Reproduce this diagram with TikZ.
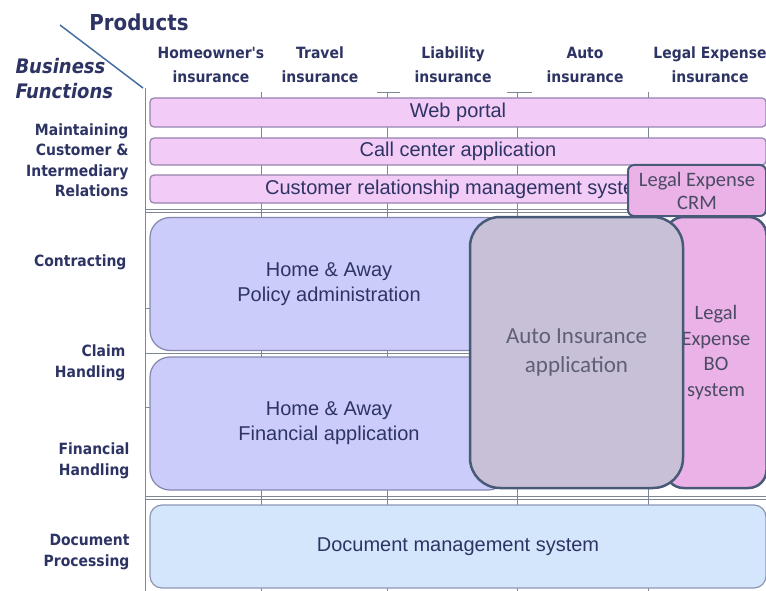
\documentclass[tikz,border=0pt]{standalone}
\usepackage{fontspec}
\setmainfont{Liberation Sans}
\newfontfamily\hdrfont[FakeStretch=0.9]{DejaVu Sans}
\newfontfamily\calfont{Carlito}
\definecolor{navy}{RGB}{45,52,100}
\definecolor{gridgray}{RGB}{125,135,150}
\definecolor{diagblue}{RGB}{70,110,160}
\definecolor{pinkfill}{RGB}{242,204,246}
\definecolor{pinkline}{RGB}{150,130,175}
\definecolor{lavfill}{RGB}{204,204,250}
\definecolor{lavline}{RGB}{130,135,175}
\definecolor{autofill}{RGB}{200,192,215}
\definecolor{darkline}{RGB}{72,90,120}
\definecolor{legfill}{RGB}{234,178,230}
\definecolor{docfill}{RGB}{212,230,252}
\definecolor{docline}{RGB}{140,150,180}
\definecolor{autotext}{RGB}{95,95,120}
\definecolor{legtext}{RGB}{75,75,100}
\begin{document}
\begin{tikzpicture}[x=1pt, y=-1pt,
    hdr/.style={align=center, text=navy, font=\hdrfont\bfseries\fontsize{15.5}{24}\selectfont},
    rowlbl/.style={align=right, anchor=east, text=navy, font=\hdrfont\bfseries\fontsize{15.5}{20.5}\selectfont},
    box/.style={inner sep=0pt, align=center, text=navy, font=\fontsize{20}{25}\selectfont},
    bar/.style={box, draw=pinkline, fill=pinkfill, line width=1.2pt, rounded corners=4pt, minimum width=616pt},
    lav/.style={box, draw=lavline, fill=lavfill, line width=1.2pt, rounded corners=20pt, minimum width=358pt, minimum height=133pt},
    app/.style={inner sep=0pt, align=center, draw=darkline, line width=2.5pt}]
\useasboundingbox (0,0) rectangle (766,591);
% grid
\draw[gridgray, line width=1pt] (145,88) -- (145,591);
\foreach \c in {261,387,517,648}
    \draw[gridgray, line width=1pt] (\c,92) -- (\c,591);
\draw[gridgray] (377,92) -- (400,92) (507,92) -- (532,92);
\foreach \r in {209,212,353,496,499}
    \draw[gridgray] (145,\r) -- (766,\r);
\draw[gridgray] (145,308) -- (152,308) (145,407) -- (152,407);
\draw[diagblue, line width=1.5pt] (60,25) -- (143,88);
% headings
\node[text=navy, font=\hdrfont\bfseries\fontsize{22}{26}\selectfont] (prod) at (139,22) {Products};
\node[anchor=west, align=left, text=navy, font=\hdrfont\bfseries\itshape\fontsize{20}{25}\selectfont] (bf) at (12,79) {Business\\Functions};
\node[hdr] (home) at (211,65) {Homeowner's\\insurance};
\node[hdr] (trav) at (320,65) {Travel\\insurance};
\node[hdr] (liab) at (453,65) {Liability\\insurance};
\node[hdr] (auto) at (585,65) {Auto\\insurance};
\node[hdr] (legal) at (710,65) {Legal Expense\\insurance};
\node[rowlbl] (maint) at (132,160) {Maintaining\\Customer \&\\Intermediary\\Relations};
\node[rowlbl] (contr) at (130,262) {Contracting};
\node[rowlbl] (claim) at (129,363) {Claim\\Handling};
\node[rowlbl] (fin) at (133,461) {Financial\\Handling};
\node[rowlbl] (docp) at (133,552) {Document\\Processing};
% applications
\node[bar, minimum height=29pt] (web) at (458,112.5) {Web portal};
\node[bar, minimum height=27pt] (call) at (458,151.5) {Call center application};
\node[bar, minimum height=28pt] (crm) at (458,189) {Customer relationship management system};
\node[lav] (pol) at (329,284) {Home \& Away\\Policy administration};
\node[lav] (fina) at (329,423.5) {Home \& Away\\Financial application};
\node[app, fill=legfill, rounded corners=18pt, minimum width=101pt, minimum height=271pt,
    text=legtext, font=\calfont\fontsize{20.5}{25.5}\selectfont] (legbo) at (716,352.5) {Legal\\Expense\\BO\\system};
\node[app, fill=autofill, rounded corners=30pt, minimum width=213pt, minimum height=271pt,
    text=autotext, font=\calfont\fontsize{23}{29}\selectfont] (autoapp) at (576.5,352.5) {Auto Insurance\\application};
\node[app, fill=legfill, line width=2pt, rounded corners=6pt, minimum width=138pt, minimum height=51pt,
    text=legtext, font=\calfont\fontsize{20.5}{23}\selectfont] (legcrm) at (697,190.5) {Legal Expense\\CRM};
\node[box, draw=docline, fill=docfill, line width=1.2pt, rounded corners=12pt, minimum width=616pt,
    minimum height=83pt] (dms) at (458,546.5) {Document management system};
\end{tikzpicture}
\end{document}
